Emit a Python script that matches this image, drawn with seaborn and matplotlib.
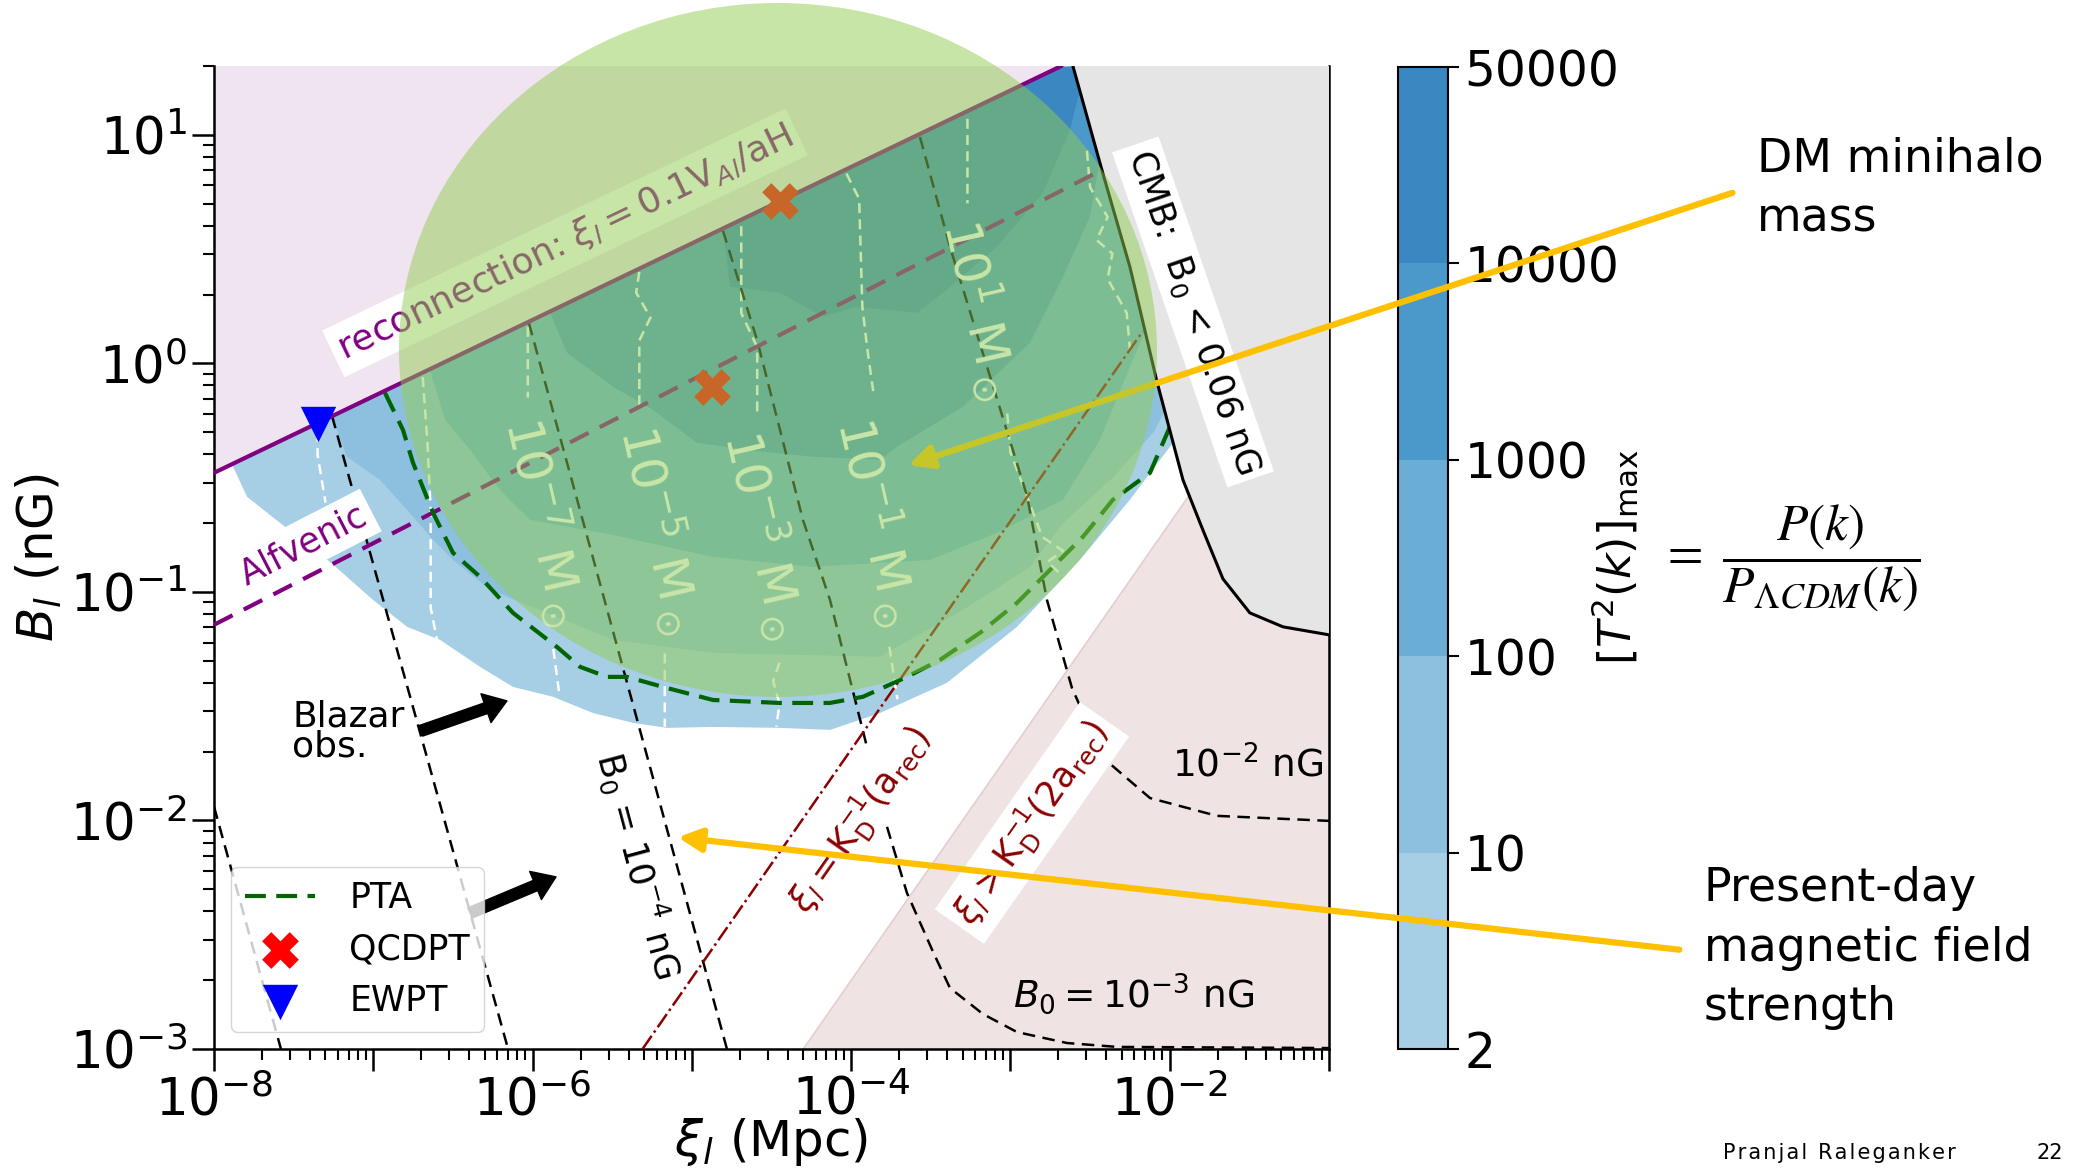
import numpy as np
import matplotlib
matplotlib.use('Agg')
import matplotlib.pyplot as plt
import seaborn as sns
from matplotlib.patches import Ellipse, FancyArrowPatch
from matplotlib.colors import ListedColormap, BoundaryNorm
from matplotlib.cm import ScalarMappable
from matplotlib.ticker import FixedLocator, FuncFormatter, LogLocator, NullFormatter

sns.set_style('ticks', {'axes.edgecolor': 'black', 'xtick.color': 'black', 'ytick.color': 'black',
                        'text.color': 'black', 'axes.labelcolor': 'black'})
plt.rcParams['font.family'] = ['DejaVu Sans']

# all curves as log10(xi_l / Mpc) and log10(B_l / nG)
recon_logxi = [-8.0, -2.68]
recon_logB = [-0.479, 1.301]
alfven_logxi = [-8.0, -2.388]
alfven_logB = [-1.144, 0.860]

cmb_logxi = [-2.608, -2.419, -2.250, -2.080, -1.917, -1.792, -1.666, -1.497, -1.289, -1.0]
cmb_logB = [1.301, 0.829, 0.422, -0.081, -0.510, -0.729, -0.943, -1.092, -1.153, -1.188]

damp1_logxi = [-5.31, -2.17]
damp1_logB = [-3.0, 0.14]
damp2_logxi = [-4.30, -1.0]
damp2_logB = [-3.0, 0.30]

# [T^2(k)]_max filled levels: lower edge of each level
levels = [2, 10, 100, 1000, 10000, 50000]
level_colors = ['#a6cee4', '#8cc0de', '#6aaed6', '#4b98ca', '#3a87c1']

t2_logxi = [-7.887, -7.793, -7.586, -7.272, -7.002, -6.788, -6.581, -6.330, -6.123, -5.872, -5.621, -5.370,
            -5.156, -4.868, -4.447, -4.133, -3.819, -3.399, -2.959, -2.564, -2.250, -1.980, -1.810]
t2_logB = [-0.442, -0.584, -0.698, -0.869, -1.035, -1.153, -1.210, -1.328, -1.416, -1.459, -1.530, -1.573,
           -1.595, -1.591, -1.595, -1.604, -1.530, -1.398, -1.153, -0.860, -0.597, -0.348, -0.160]
t10_logxi = [-7.259, -7.165, -6.958, -6.788, -6.625, -6.500, -6.267, -5.495, -4.868, -3.819, -3.712, -3.298,
             -2.878, -2.670, -2.357, -2.100, -1.950]
t10_logB = [-0.234, -0.409, -0.510, -0.641, -0.772, -0.860, -0.991, -1.210, -1.267, -1.284, -1.241, -1.079,
            -0.891, -0.700, -0.500, -0.300, -0.100]
t100_logxi = [-6.644, -6.550, -6.393, -6.205, -6.016, -5.495, -4.868, -4.240, -3.819, -3.505, -3.085, -2.670,
              -2.438, -2.300, -2.150]
t100_logB = [-0.029, -0.247, -0.379, -0.554, -0.685, -0.751, -0.847, -0.891, -0.873, -0.860, -0.742, -0.597,
             -0.335, -0.100, 0.150]
t1000_logxi = [-5.891, -5.784, -5.495, -5.244, -4.968, -4.654, -4.240, -3.819, -3.712, -3.298, -2.878, -2.670,
               -2.501, -2.438, -2.400]
t1000_logB = [0.221, 0.046, -0.103, -0.204, -0.348, -0.379, -0.409, -0.422, -0.365, -0.190, 0.090, 0.379,
              0.641, 0.891, 1.000]
t10000_logxi = [-4.805, -4.761, -4.447, -4.177, -3.964, -3.587, -3.424, -3.085, -2.796, -2.626, -2.564, -2.500]
t10000_logB = [0.580, 0.335, 0.308, 0.204, 0.247, 0.221, 0.308, 0.510, 0.746, 1.022, 1.197, 1.301]

pta_logxi = [-6.927, -6.814, -6.751, -6.625, -6.500, -6.330, -6.123, -5.847, -5.702, -5.533, -5.407, -5.181,
             -4.868, -4.447, -4.133, -3.926, -3.650, -3.443, -3.191, -2.959, -2.752, -2.545, -2.357, -2.124, -1.999]
pta_logB = [-0.129, -0.291, -0.435, -0.654, -0.829, -0.934, -1.092, -1.241, -1.328, -1.372, -1.372, -1.416,
            -1.473, -1.486, -1.486, -1.459, -1.372, -1.298, -1.179, -1.048, -0.904, -0.759, -0.597, -0.479, -0.278]

qcd_logxi = [-4.447, -4.874]
qcd_logB = [0.712, -0.103]
ew_logxi = [-7.347]
ew_logB = [-0.265]

nan = np.nan

# present-day field contours B_0
b0a_logxi = [-8.0, -7.58]
b0a_logB = [-1.94, -3.0]
b0b_logxi = [-7.259, -6.154]
b0b_logB = [-0.231, -3.0]
b0c_logxi = [-6.023, -4.78]
b0c_logB = [0.176, -3.0]
b0d_logxi = [-4.805, -4.591, -4.303, -4.133, -3.901, nan, -3.775, -3.650, -3.486, -3.380, -3.173, -2.959, -2.645,
             -2.331, -1.0]
b0d_logB = [0.580, 0.103, -0.685, -1.035, -1.678, nan, -2.028, -2.317, -2.575, -2.733, -2.847, -2.926, -2.974,
            -2.991, -2.996]
b0e_logxi = [-3.568, -3.380, -2.896, -2.771, -2.614, -2.419, -2.124, -1.704, -1.0]
b0e_logB = [0.990, 0.510, -0.580, -1.035, -1.420, -1.726, -1.902, -1.980, -2.002]

# minihalo mass contours (nan = gap for label)
ma_logxi = [-7.35, -7.35, -7.30]
ma_logB = [-0.30, -0.40, -0.61]
mb_logxi = [-6.69, -6.66, -6.64, -6.64, -6.60]
mb_logB = [-0.06, -0.35, -0.64, -1.07, -1.21]
mc_logxi = [-6.03, -6.03, nan, -5.87, -5.83]
mc_logB = [0.16, -0.15, nan, -1.25, -1.46]
md_logxi = [-5.33, -5.35, -5.26, -5.33, -5.33, nan, -5.17, -5.17]
md_logB = [0.40, 0.31, 0.20, 0.10, -0.20, nan, -1.27, -1.59]
me_logxi = [-4.69, -4.69, -4.59, -4.59, nan, -4.45, -4.49, -4.45, -4.47]
me_logB = [0.60, 0.22, 0.07, -0.22, nan, -1.31, -1.39, -1.49, -1.59]
mf_logxi = [-4.03, -3.95, -3.93, -3.90, -3.86, nan, -3.76, -3.71]
mf_logB = [0.83, 0.72, 0.25, 0.07, -0.13, nan, -1.24, -1.47]
mg_logxi = [-3.27, -3.27, nan, -3.02, -3.00, -2.80, -2.67, -2.77, -2.67]
mg_logB = [1.07, 0.70, nan, -0.22, -0.39, -0.76, -0.82, -0.87, -0.93]
mh_logxi = [-2.52, -2.50, -2.39, -2.46, -2.36, -2.39, -2.27, -2.25]
mh_logB = [0.93, 0.77, 0.64, 0.54, 0.48, 0.37, 0.22, 0.06]

mass_lab_logxi = [-5.922, -5.200, -4.541, -3.838, -3.192]
mass_lab_logB = [-0.694, -0.729, -0.751, -0.694, 0.234]
mass_lab_text = [r'$10^{-7}\ \mathrm{M}_\odot$', r'$10^{-5}\ \mathrm{M}_\odot$', r'$10^{-3}\ \mathrm{M}_\odot$',
                 r'$10^{-1}\ \mathrm{M}_\odot$', r'$10^{1}\ \mathrm{M}_\odot$']


def p10(v):
    return 10.0 ** np.asarray(v, dtype=float)


fig = plt.figure(figsize=(20.74, 11.74), dpi=100)
ax = fig.add_axes([0.1032, 0.1065, 0.5376, 0.8373])
cax = fig.add_axes([0.6741, 0.1065, 0.0241, 0.8364])
ax.set_xscale('log')
ax.set_yscale('log')
ax.set_xlim(1e-8, 1e-1)
ax.set_ylim(1e-3, 20)
lx0, lx1 = -8.0, -1.0
ly1 = np.log10(20)
ly_over = 2.0  # polygons reach above the top so the edge is hidden by the clip

# filled [T^2]_max regions, each closed along the top of the axes
bands = [(t2_logxi, t2_logB), (t10_logxi, t10_logB), (t100_logxi, t100_logB),
         (t1000_logxi, t1000_logB), (t10000_logxi, t10000_logB)]
for (lx, ly), c in zip(bands, level_colors):
    xs = np.r_[lx, lx1, lx1, lx0, lx0]
    ys = np.r_[ly, ly[-1], ly1, ly1, ly[0]]
    ax.fill(p10(xs), p10(ys), color=c, lw=0, zorder=1)

# excluded / shaded regions
ax.fill_between(p10(damp2_logxi), 1e-3, p10(damp2_logB), color='#f0e3e3', lw=0, zorder=1.2)
ax.plot(p10(damp2_logxi), p10(damp2_logB), color='#e5cccc', lw=1.2, zorder=1.3)
ax.fill_between(p10([recon_logxi[0], recon_logxi[1], lx1]), p10([recon_logB[0], recon_logB[1], recon_logB[1]]),
                p10(ly_over), color='#f0e4f1', lw=0, zorder=1.5)
ax.fill(p10(np.r_[cmb_logxi, lx1 + 0.1, lx1 + 0.1, cmb_logxi[0]]),
        p10(np.r_[cmb_logB, cmb_logB[-1], ly_over, ly_over]), color='#e5e5e5', lw=0, zorder=3)
ax.plot(p10(cmb_logxi), p10(cmb_logB), color='black', lw=2.2, zorder=3.5)

# mass contours
for mx, my in [(ma_logxi, ma_logB), (mb_logxi, mb_logB), (mc_logxi, mc_logB), (md_logxi, md_logB),
               (me_logxi, me_logB), (mf_logxi, mf_logB), (mg_logxi, mg_logB), (mh_logxi, mh_logB)]:
    ax.plot(p10(mx), p10(my), color='white', lw=1.8, dashes=(4, 2.5), zorder=2.2)

# B_0 contours
for bx, by in [(b0a_logxi, b0a_logB), (b0b_logxi, b0b_logB), (b0c_logxi, b0c_logB),
               (b0d_logxi, b0d_logB), (b0e_logxi, b0e_logB)]:
    ax.plot(p10(bx), p10(by), color='black', lw=1.8, dashes=(5, 3), zorder=2.4)

ax.plot(p10(damp1_logxi), p10(damp1_logB), color='#8b0000', lw=1.8, ls='-.', zorder=2.6)
ax.plot(p10(alfven_logxi), p10(alfven_logB), color='purple', lw=3, dashes=(5, 3), zorder=2.6)
ax.plot(p10(recon_logxi), p10(recon_logB), color='purple', lw=3, zorder=4)

sns.lineplot(x=p10(pta_logxi), y=p10(pta_logB), sort=False, estimator=None, color='darkgreen',
             lw=3, linestyle=(0, (5, 2.5)), label='PTA', ax=ax, zorder=2.8)
sns.scatterplot(x=p10(qcd_logxi), y=p10(qcd_logB), marker='X', s=700, color='red', linewidth=0,
                label='QCDPT', ax=ax, zorder=5)
sns.scatterplot(x=p10(ew_logxi), y=p10(ew_logB), marker='v', s=650, color='blue', linewidth=0,
                label='EWPT', ax=ax, zorder=5)
ax.legend(loc='lower left', fontsize=25, frameon=True, handletextpad=1.0)

# labels inside the plot
white_box = dict(fc='white', ec='none', pad=5)
ax.text(p10(-5.797), p10(0.527), r'reconnection: $\xi_l = 0.1\mathrm{V}_{Al}/\mathrm{aH}$', rotation=25.6,
        color='purple', fontsize=26, ha='center', va='center', rotation_mode='anchor', bbox=white_box, zorder=4.5)
ax.text(p10(-7.441), p10(-0.794), 'Alfvenic', rotation=27.2, color='purple', fontsize=25,
        ha='center', va='center', rotation_mode='anchor', bbox=white_box, zorder=4.5)
ax.text(p10(-1.854), p10(0.225), r'CMB:  B$_0$ < 0.06 nG', rotation=-71, fontsize=25,
        ha='center', va='center', rotation_mode='anchor', bbox=white_box, zorder=4.5)
ax.text(p10(-5.33), p10(-2.195), r'B$_0$ = $10^{-4}$ nG', rotation=-75, fontsize=25,
        ha='center', va='center', rotation_mode='anchor', zorder=4.5)
ax.text(p10(-1.509), p10(-1.761), r'$10^{-2}$ nG', fontsize=27, ha='center', va='center', zorder=4.5)
ax.text(p10(-2.225), p10(-2.759), r'$B_0 = 10^{-3}$ nG', fontsize=27, ha='center', va='center', zorder=4.5)
ax.text(p10(-3.945), p10(-1.998), r'$\xi_l = \mathrm{K}_\mathrm{D}^{-1}(\mathrm{a}_\mathrm{rec})$',
        rotation=55, color='#8b0000', fontsize=25, ha='center', va='center', rotation_mode='anchor', zorder=4.5)
ax.text(p10(-2.865), p10(-2.011), r'$\xi_l > \mathrm{K}_\mathrm{D}^{-1}(2\mathrm{a}_\mathrm{rec})$',
        rotation=55, color='#8b0000', fontsize=25, ha='center', va='center', rotation_mode='anchor',
        bbox=white_box, zorder=4.5)
for mx, my, mt in zip(mass_lab_logxi, mass_lab_logB, mass_lab_text):
    ax.text(p10(mx), p10(my), mt, rotation=-77, color='white', fontsize=36,
            ha='center', va='center', rotation_mode='anchor', zorder=4.5)

ax.text(p10(-7.51), p10(-1.613), 'Blazar\nobs.', fontsize=26, ha='left', va='center', linespacing=0.85, zorder=4.5)
blazar_arrow = dict(arrowstyle='simple,head_length=0.8,head_width=1.1,tail_width=0.4', color='black',
                    mutation_scale=20, shrinkA=0, shrinkB=0)
ax.annotate('', xy=(p10(-6.161), p10(-1.477)), xytext=(p10(-6.701), p10(-1.608)), arrowprops=blazar_arrow, zorder=4)
ax.annotate('', xy=(p10(-5.853), p10(-2.247)), xytext=(p10(-6.393), p10(-2.405)), arrowprops=blazar_arrow, zorder=4)

# axes styling
ax.spines['top'].set_visible(False)
for s in ['left', 'bottom', 'right']:
    ax.spines[s].set_linewidth(1.8)
ax.xaxis.set_major_locator(FixedLocator(10.0 ** np.arange(-8, 0)))
ax.xaxis.set_major_formatter(FuncFormatter(
    lambda v, pos: f'$10^{{{int(round(np.log10(v)))}}}$' if int(round(np.log10(v))) % 2 == 0 else ''))
ax.xaxis.set_minor_locator(LogLocator(base=10, subs=np.arange(2, 10), numticks=100))
ax.xaxis.set_minor_formatter(NullFormatter())
ax.yaxis.set_major_locator(FixedLocator(10.0 ** np.arange(-3, 2)))
ax.yaxis.set_minor_locator(LogLocator(base=10, subs=np.arange(2, 10), numticks=100))
ax.yaxis.set_minor_formatter(NullFormatter())
ax.tick_params(which='major', length=16, width=1.8, labelsize=37, pad=3)
ax.tick_params(which='minor', length=8, width=1.5)
ax.set_xlabel(r'$\xi_l$ (Mpc)', fontsize=36)
ax.set_ylabel(r'$B_l$ (nG)', fontsize=36)
ax.xaxis.set_label_coords(0.5, -0.068)
ax.yaxis.set_label_coords(-0.135, 0.5)

# colorbar
cmap = ListedColormap(level_colors)
norm = BoundaryNorm(levels, cmap.N)
cb = fig.colorbar(ScalarMappable(norm=norm, cmap=cmap), cax=cax, ticks=levels, spacing='uniform')
cb.ax.set_yticklabels([str(v) for v in levels])
cb.ax.tick_params(length=8, width=1.5, labelsize=35, pad=4)
cb.outline.set_linewidth(1.5)
fig.text(1615 / 2074, 1 - 557 / 1174, r'$[T^2(k)]_{\rm max}$', rotation=90, fontsize=32, ha='center', va='center')
fig.text(0.863, 0.525, r'$=\ \dfrac{P(k)}{P_{\Lambda CDM}(k)}$', math_fontfamily='stix', fontsize=37,
         ha='center', va='center')

# slide annotations
fig.add_artist(FancyArrowPatch((0.8366, 0.8365), (0.4368, 0.6031), transform=fig.transFigure,
                               arrowstyle='-|>,head_length=0.4,head_width=0.2', mutation_scale=35,
                               lw=4.5, color='#ffc000', zorder=9))
fig.add_artist(FancyArrowPatch((0.8110, 0.1908), (0.3255, 0.2871), transform=fig.transFigure,
                               arrowstyle='-|>,head_length=0.4,head_width=0.2', mutation_scale=35,
                               lw=4.5, color='#ffc000', zorder=9))
fig.add_artist(Ellipse((0.3751, 0.7019), 0.3655, 0.5911, transform=fig.transFigure,
                       facecolor=(145 / 255, 205 / 255, 81 / 255), alpha=0.5, edgecolor='none', zorder=10))
fig.text(1757 / 2074, 1 - 136 / 1174, 'DM minihalo\nmass', fontsize=33, ha='left', va='top', linespacing=1.45)
fig.text(1704 / 2074, 1 - 866 / 1174, 'Present-day\nmagnetic field\nstrength', fontsize=33,
         ha='left', va='top', linespacing=1.42)
fig.text(1723 / 2074, 1 - 1153 / 1174, '\u200a'.join('Pranjal Raleganker'), fontsize=15, ha='left', va='center')
fig.text(2063 / 2074, 1 - 1153 / 1174, '22', fontsize=15, ha='right', va='center')

fig.savefig('out.png', dpi=100)
